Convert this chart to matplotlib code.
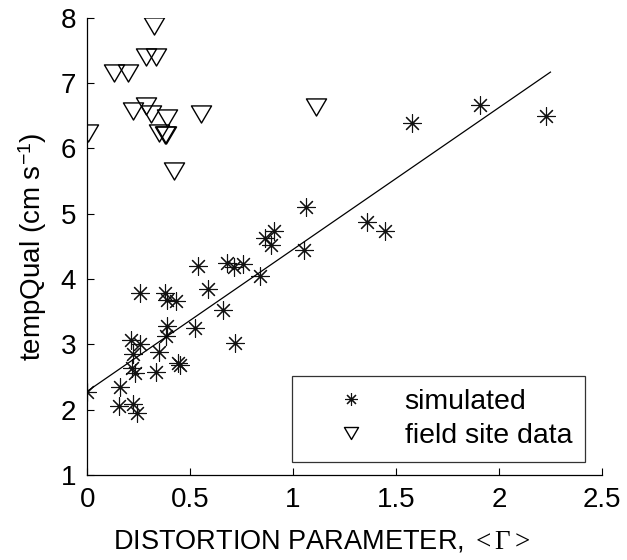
import numpy as np
import matplotlib
matplotlib.use("Agg")
import matplotlib.pyplot as plt
from matplotlib.path import Path

plt.rcParams['font.family'] = ['Liberation Sans', 'DejaVu Sans']
plt.rcParams['mathtext.fontset'] = 'custom'
plt.rcParams['mathtext.rm'] = 'Liberation Serif'
plt.rcParams['mathtext.it'] = 'Liberation Serif:italic'

# simulated data (asterisks)
sim_x = [0.0, 0.16, 0.157, 0.225, 0.241, 0.217, 0.233, 0.225, 0.214, 0.257,
         0.335, 0.35, 0.383, 0.39, 0.443, 0.451, 0.257, 0.379, 0.39, 0.43,
         0.524, 0.536, 0.589, 0.662, 0.718, 0.678, 0.714, 0.759, 0.84, 0.864,
         0.891, 0.908, 1.053, 1.063, 1.358, 1.447, 1.579, 1.908, 2.228]
sim_y = [2.27, 2.35, 2.05, 2.09, 1.95, 2.64, 2.56, 2.85, 3.07, 3.0,
         2.57, 2.89, 3.12, 3.28, 2.71, 2.69, 3.79, 3.79, 3.68, 3.67,
         3.25, 4.20, 3.85, 3.53, 3.02, 4.24, 4.19, 4.23, 4.04, 4.63,
         4.52, 4.74, 4.45, 5.11, 4.88, 4.74, 6.39, 6.67, 6.50]

# field site data (triangles)
field_x = [0.325, 0.285, 0.333, 0.128, 0.20, 0.225, 0.286, 0.309, 0.39, 0.552,
           0.006, 0.351, 0.379, 0.385, 0.424, 1.11]
field_y = [7.87, 7.40, 7.40, 7.15, 7.15, 6.57, 6.65, 6.53, 6.46, 6.53,
           6.23, 6.23, 6.21, 6.20, 5.65, 6.64]

# regression line endpoints
fit_x = [0.0, 2.25]
fit_y = [2.28, 7.17]

xticks = [0, 0.5, 1, 1.5, 2, 2.5]
xticklabels = ['0', '0.5', '1', '1.5', '2', '2.5']
yticks = [1, 2, 3, 4, 5, 6, 7, 8]

fig = plt.figure(figsize=(6.27, 5.6), dpi=100)
ax = fig.add_axes([0.139, 0.152, 0.821, 0.816])

ast = (8, 2, 0)
tri = Path([(-1, 0.85), (1, 0.85), (0, -0.85), (-1, 0.85)],
           [Path.MOVETO, Path.LINETO, Path.LINETO, Path.CLOSEPOLY])

ax.plot(sim_x, sim_y, linestyle='none', marker=ast, markersize=13,
        markeredgecolor='#111111', markerfacecolor='none', markeredgewidth=0.8,
        label='simulated')
ax.plot(field_x, field_y, linestyle='none', marker=tri, markersize=14.5,
        markeredgecolor='black', markerfacecolor='none', markeredgewidth=1.0,
        label='field site data')
ax.plot(fit_x, fit_y, color='black', linewidth=0.9)

ax.set_xlim(0, 2.5)
ax.set_ylim(1, 8)
ax.set_xticks(xticks)
ax.set_xticklabels(xticklabels)
ax.set_yticks(yticks)
ax.spines['top'].set_visible(False)
ax.spines['right'].set_visible(False)
for s in ('left', 'bottom'):
    ax.spines[s].set_linewidth(0.9)
ax.tick_params(direction='in', length=5, labelsize=20, width=0.8)
ax.tick_params(axis='x', pad=9)
ax.tick_params(axis='y', pad=8)

ax.set_xlabel('DISTORTION PARAMETER, ${<}\\Gamma{>}$', fontsize=19.5)
ax.xaxis.set_label_coords(0.456, -0.118)
ax.set_ylabel('tempQual (cm s$^{\\mathregular{-1}}$)', fontsize=20, labelpad=8)

leg = ax.legend(loc='lower right', fontsize=20.5, frameon=True, fancybox=False,
                edgecolor='black', borderpad=0.45, handletextpad=0.3,
                handlelength=3.2, labelspacing=0.3, markerscale=0.7,
                borderaxespad=0.0, bbox_to_anchor=(0.967, 0.028))
leg.get_frame().set_linewidth(0.9)

fig.savefig('out.png', dpi=100)
